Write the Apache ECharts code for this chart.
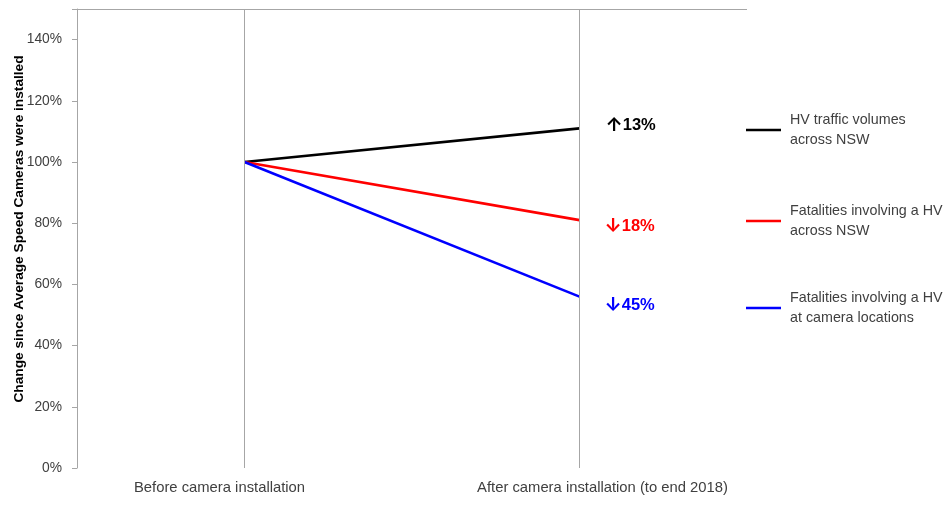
<!DOCTYPE html>
<html>
<head>
<meta charset="utf-8">
<script src="https://cdn.jsdelivr.net/npm/echarts@6/dist/echarts.min.js"></script>
<style>html,body{margin:0;padding:0;background:#fff}#c{width:949px;height:505px}</style>
</head>
<body>
<div id="c"></div>
<script>
const categories = ['Before camera installation', 'After camera installation (to end 2018)'];
const seriesNames = ['HV traffic volumes\nacross NSW', 'Fatalities involving a HV\nacross NSW', 'Fatalities involving a HV\nat camera locations'];
const hvTraffic = [100, 111];
const fatalNSW = [100, 81];
const fatalCamera = [100, 56];
const changeArrows = ['↑', '↓', '↓'];
const changeValues = ['13%', '18%', '45%'];
const yMin = 0, yMax = 150, yStep = 20;

const FONT = 'Liberation Sans';
const chart = echarts.init(document.getElementById('c'));

function mkSeries(name, data, color, arrow, value, offset) {
  return {
    name: name, type: 'line', data: data, symbol: 'none', z: 3,
    lineStyle: { color: color, width: 2.6 },
    itemStyle: { color: color },
    endLabel: {
      show: true, formatter: '{a|' + arrow + '}{v|' + value + '}', offset: offset, distance: 5,
      rich: {
        a: { fontFamily: 'Inter', fontWeight: 'bold', fontSize: 19, color: color },
        v: { fontFamily: FONT, fontWeight: 'bold', fontSize: 16.5, color: color }
      }
    },
    emphasis: { disabled: true }
  };
}

function mkLegend(name, left, top) {
  return {
    data: [{ name: name, icon: 'rect' }], left: left, top: top, orient: 'vertical', padding: 0,
    itemWidth: 35, itemHeight: 2.5, selectedMode: false,
    textStyle: { fontFamily: FONT, fontSize: 14.3, color: '#404040', lineHeight: 20, padding: [0, 0, 0, 4] }
  };
}

chart.setOption({
  animation: false,
  grid: { left: 77, right: 202, top: 9, bottom: 37, containLabel: false, outerBoundsMode: 'none' },
  legend: [
    mkLegend(seriesNames[0], 746, 110),
    mkLegend(seriesNames[1], 746, 201),
    mkLegend(seriesNames[2], 746, 288)
  ],
  xAxis: {
    type: 'category', data: categories, boundaryGap: true,
    axisLine: { show: false }, axisTick: { show: false }, splitLine: { show: false },
    axisLabel: {
      interval: 0, hideOverlap: false,
      margin: 12, fontFamily: FONT, fontSize: 14.8, color: '#404040',
      formatter: function (v, i) { return i === 0 ? '{a|' + v + '}' : '{b|' + v + '}'; },
      rich: {
        a: { fontFamily: FONT, fontSize: 14.8, color: '#404040', padding: [0, 50, 0, 0] },
        b: { fontFamily: FONT, fontSize: 14.8, color: '#404040', padding: [0, 0, 0, 46] }
      }
    }
  },
  yAxis: {
    type: 'value', min: yMin, max: yMax, interval: yStep,
    name: 'Change since Average Speed Cameras were installed', nameLocation: 'middle', nameGap: 51,
    nameMoveOverlap: false,
    nameTextStyle: { fontFamily: FONT, fontSize: 13.7, fontWeight: 'bold', color: '#000', padding: [0, 0, 0, 19] },
    axisLine: { show: true, lineStyle: { color: '#a6a6a6', width: 1 } },
    axisTick: { show: true, length: 5, lineStyle: { color: '#a6a6a6' } },
    splitLine: { show: false },
    axisLabel: {
      margin: 15, fontFamily: FONT, fontSize: 13.8, color: '#404040',
      formatter: function (v) { return v > 140 ? '' : v + '%'; }
    }
  },
  series: [
    {
      name: 'grid', type: 'line', data: [], z: 1, silent: true,
      markLine: {
        silent: true, symbol: 'none', label: { show: false },
        lineStyle: { color: '#a6a6a6', width: 1, type: 'solid' },
        emphasis: { disabled: true },
        data: [{ xAxis: 0 }, { xAxis: 1 }, { yAxis: yMax }]
      }
    },
    mkSeries(seriesNames[0], hvTraffic, '#000000', changeArrows[0], changeValues[0], [21, -3]),
    mkSeries(seriesNames[1], fatalNSW, '#ff0000', changeArrows[1], changeValues[1], [20, 6]),
    mkSeries(seriesNames[2], fatalCamera, '#0000ff', changeArrows[2], changeValues[2], [20, 9])
  ]
});
</script>
</body>
</html>
